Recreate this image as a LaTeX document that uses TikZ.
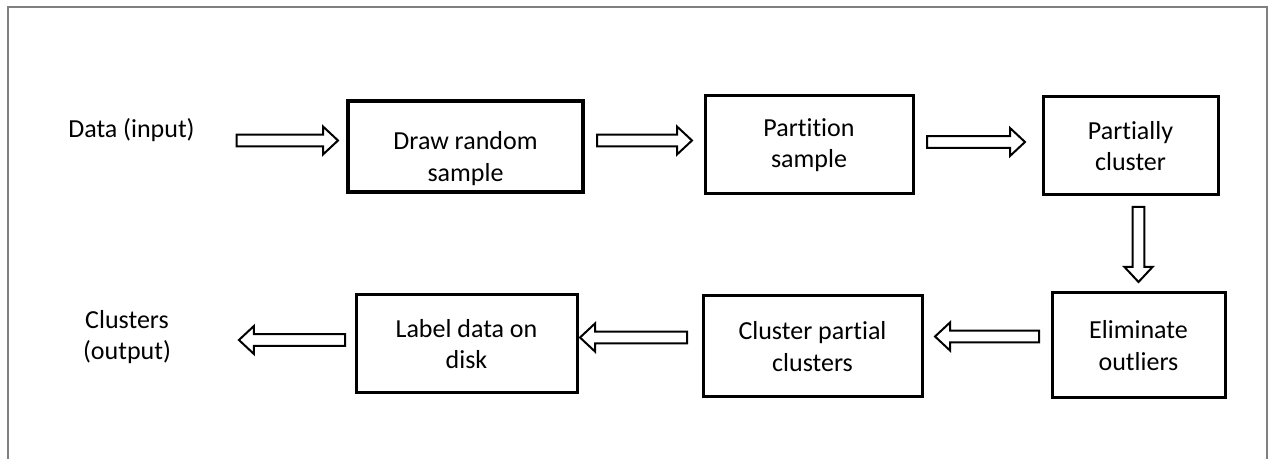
\documentclass[tikz,border=0pt]{standalone}
\usepackage{fontspec}
\setmainfont{Carlito}[Ligatures=NoCommon]
\usetikzlibrary{calc}

\definecolor{framegray}{RGB}{128,128,128}

\tikzset{
  stepbox/.style={draw, line width=1.5pt, align=center, inner sep=2pt, outer sep=0pt,
    font=\fontsize{13}{15.8}\selectfont},
  plaintext/.style={align=center, inner sep=0pt, outer sep=0pt,
    font=\fontsize{13}{15.8}\selectfont},
  % hollow block arrow, #1 = gap at the tail, #2 = gap at the tip
  barrow/.style 2 args={draw, fill=white, line width=1pt, line join=miter, to path={
    let \p1=($(\tikztotarget)-(\tikztostart)$), \n1={atan2(\y1,\x1)},
        \n2={\n1+90}, \n3={\n1-90}, \n4={\n1+180},
        \p2=($(\tikztostart)+(\n1:#1)$), \p3=($(\tikztotarget)+(\n4:#2)$),
        \p4=($(\p3)+(\n4:7.5pt)$) in
    ($(\p2)+(\n2:2.9pt)$) -- ($(\p4)+(\n2:2.9pt)$) -- ($(\p4)+(\n2:7pt)$) -- (\p3)
    -- ($(\p4)+(\n3:7pt)$) -- ($(\p4)+(\n3:2.9pt)$) -- ($(\p2)+(\n3:2.9pt)$) -- cycle
  }},
}

\begin{document}
\begin{tikzpicture}[x=0.5pt, y=-0.5pt]
  \useasboundingbox (0,0) rectangle (1269,459);
  % frame, open at the bottom
  \draw[framegray, line width=1pt] (8,459) -- (8,7) -- (1267,7) -- (1267,459);

  % top row
  \node[plaintext] (data) at (131.5,130) {Data (input)};
  \node[stepbox, line width=1.8pt, text height=37pt, minimum width=117.5pt, minimum height=45.5pt] (drs) at (465.5,146.5) {Draw random\\sample};
  \node[stepbox, minimum width=104pt, minimum height=49pt] (ps) at (809,145) {Partition\\sample};
  \node[stepbox, minimum width=87.5pt, minimum height=49pt] (pc) at (1130.5,146) {Partially\\cluster};

  % bottom row
  \node[stepbox, minimum width=86.5pt, minimum height=52.5pt] (eo) at (1138.5,345.5) {Eliminate\\outliers};
  \node[stepbox, minimum width=109.5pt, minimum height=50.5pt] (cpc) at (812.5,346.5) {Cluster partial\\clusters};
  \node[stepbox, minimum width=110.5pt, minimum height=49pt] (ldd) at (466.5,344) {Label data on\\disk};
  \node[plaintext] (out) at (127,337) {Clusters\\(output)};

  % block arrows
  \draw[barrow={21pt}{5pt}] ([yshift=3pt]data.east |- drs.west) to ([yshift=3pt]drs.west);
  \draw[barrow={7pt}{6.5pt}] ([yshift=3pt]drs.east) to ([yshift=3pt]drs.east -| ps.west);
  \draw[barrow={7pt}{9pt}] ([yshift=1.5pt]ps.east) to ([yshift=1.5pt]ps.east -| pc.west);
  \draw[barrow={6pt}{5.5pt}] (pc.south -| eo.north) to (eo.north);
  \draw[barrow={6.5pt}{6.5pt}] ([yshift=4.5pt]eo.west) to ([yshift=4.5pt]eo.west -| cpc.east);
  \draw[barrow={8pt}{1.5pt}] ([yshift=4.5pt]cpc.west) to ([yshift=4.5pt]cpc.west -| ldd.east);
  \draw[barrow={5.5pt}{34pt}] ([yshift=2pt]ldd.west) to ([yshift=2pt]ldd.west -| out.east);
\end{tikzpicture}
\end{document}
